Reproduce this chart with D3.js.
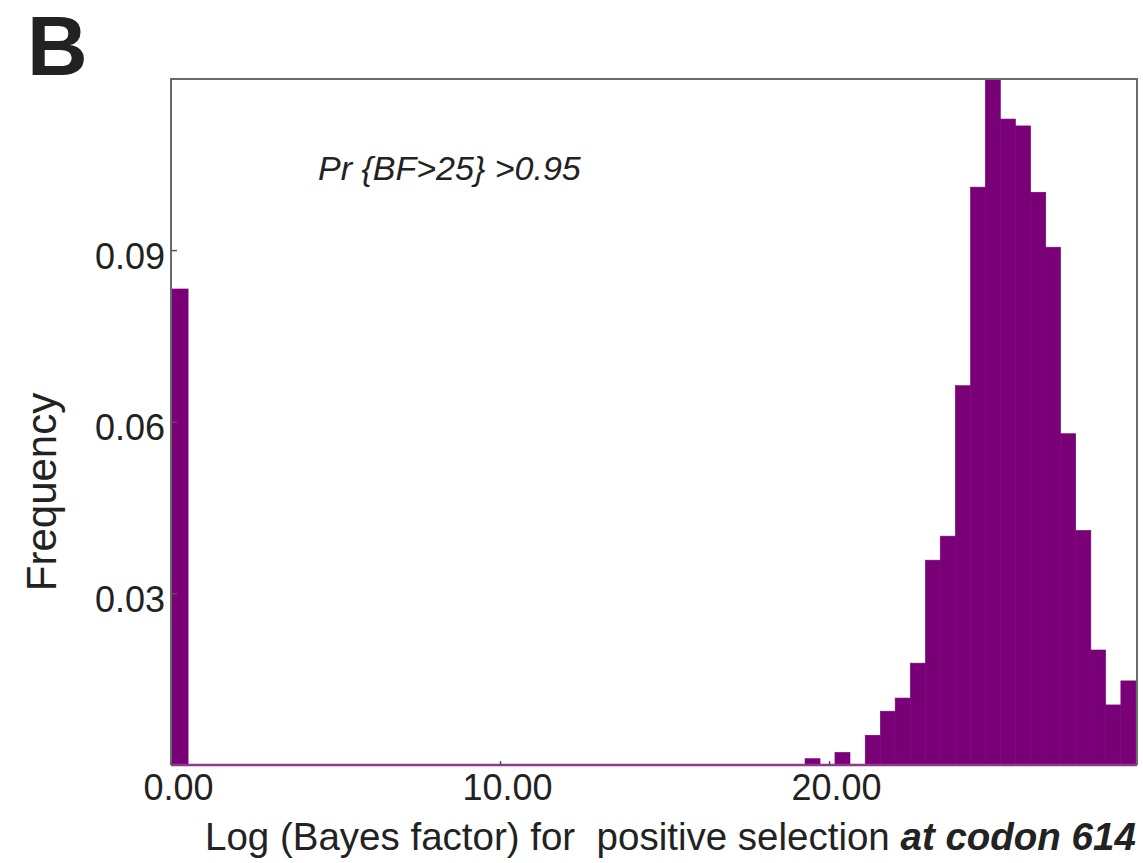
<!DOCTYPE html>
<html lang="en">
<head>
<meta charset="UTF-8"/>
<title>Log Bayes factor histogram</title>
<script src="https://d3js.org/d3.v7.min.js"></script>
<style>
	body { margin: 0; background: #ffffff; }
	text { font-family: "Liberation Sans", Arial, sans-serif; fill: #222; }
</style>
</head>
<body>
<div id="chart"></div>
<script>
	// bin start values (log Bayes factor) and their frequencies
	var binStart = [0.00,
		19.27, 19.73, 20.18, 20.64, 21.10, 21.56, 22.01, 22.47, 22.93, 23.38, 23.84,
		24.30, 24.75, 25.21, 25.67, 26.13, 26.58, 27.04, 27.50, 27.95, 28.41, 28.87];
	var binWidth = 0.457;
	var frequency = [0.0832,
		0.0011, 0.0000, 0.0022, 0.0000, 0.0052, 0.0094, 0.0117, 0.0178, 0.0358, 0.0400, 0.0663,
		0.1010, 0.1210, 0.1129, 0.1117, 0.1001, 0.0905, 0.0579, 0.0410, 0.0201, 0.0105, 0.0147];
	var xTicks = [0, 10, 20];
	var yTicks = [0.03, 0.06, 0.09];

	var w = 1143, h = 863;
	var mLeft = 171, mRight = 1137, mTop = 79, mBottom = 765;

	var svg = d3.select("#chart").append("svg")
		.attr("width", w)
		.attr("height", h);

	var xScale = d3.scaleLinear().domain([0, 29.36]).range([mLeft, mRight]);
	var yScale = d3.scaleLinear().domain([0, 0.1199]).range([mBottom, mTop]);

	svg.append("clipPath").attr("id", "plotclip")
		.append("rect")
		.attr("x", mLeft).attr("y", mTop)
		.attr("width", mRight - mLeft).attr("height", mBottom - mTop);

	// bars
	svg.append("g").attr("clip-path", "url(#plotclip)")
		.selectAll("rect")
		.data(binStart)
		.enter()
		.append("rect")
		.attr("x", function(d) { return xScale(d); })
		.attr("y", function(d, i) { return yScale(frequency[i]); })
		.attr("width", function(d, i) {
			var bw = i === 0 ? 0.52 : binWidth;   // first bar a bit wider in the figure
			return xScale(d + bw) - xScale(d);
		})
		.attr("height", function(d, i) { return mBottom - yScale(frequency[i]); })
		.attr("fill", "#7a0078")
		.attr("stroke", "#7a0078")
		.attr("stroke-width", 0.6);

	// frame (left, top, right in grey, bottom purple)
	svg.append("path")
		.attr("d", "M" + mLeft + "," + mBottom + "V" + mTop + "H" + mRight + "V" + mBottom)
		.attr("fill", "none")
		.attr("stroke", "#6a6a6a")
		.attr("stroke-width", 2);
	svg.append("line")
		.attr("x1", mLeft).attr("x2", mRight)
		.attr("y1", mBottom).attr("y2", mBottom)
		.attr("stroke", "#8c3a8a")
		.attr("stroke-width", 2.5);

	// y axis, inward ticks
	var yAxis = d3.axisLeft(yScale).tickValues(yTicks).tickSize(-6).tickPadding(6)
		.tickFormat(d3.format(".2f"));
	var gy = svg.append("g")
		.attr("transform", "translate(" + mLeft + ",0)")
		.call(yAxis);
	gy.select(".domain").remove();
	gy.selectAll("line").attr("stroke", "#555").attr("stroke-width", 1.5);
	gy.selectAll("text")
		.attr("font-size", "36px")
		.attr("dy", "0.5em")
		.attr("fill", "#222")
		.style("font-family", "'Liberation Sans', Arial, sans-serif");

	// x axis
	var xAxis = d3.axisBottom(xScale).tickValues(xTicks).tickSize(-4).tickPadding(9)
		.tickFormat(d3.format(".2f"));
	var gx = svg.append("g")
		.attr("transform", "translate(0," + mBottom + ")")
		.call(xAxis);
	gx.select(".domain").remove();
	gx.selectAll("line").attr("stroke", "#555").attr("stroke-width", 1.5);
	gx.selectAll("text")
		.attr("font-size", "36px")
		.attr("x", 7)
		.attr("fill", "#222")
		.style("font-family", "'Liberation Sans', Arial, sans-serif");

	// panel letter
	svg.append("text")
		.attr("x", 27).attr("y", 75)
		.attr("font-size", "84px")
		.attr("font-weight", "bold")
		.attr("fill", "#000")
		.text("B");

	// annotation
	svg.append("text")
		.attr("x", 318).attr("y", 180)
		.attr("font-size", "34px")
		.attr("font-style", "italic")
		.text("Pr {BF>25} >0.95");

	// x axis label
	var xl = svg.append("text")
		.attr("x", 205).attr("y", 850)
		.attr("font-size", "38.5px")
		.attr("xml:space", "preserve");
	xl.append("tspan").text("Log (Bayes factor) for  positive selection ");
	xl.append("tspan").attr("font-weight", "bold").attr("font-style", "italic").text("at codon 614");

	// y axis label
	svg.append("text")
		.attr("transform", "translate(56,492) rotate(-90)")
		.attr("text-anchor", "middle")
		.attr("font-size", "42px")
		.text("Frequency");
</script>
</body>
</html>
